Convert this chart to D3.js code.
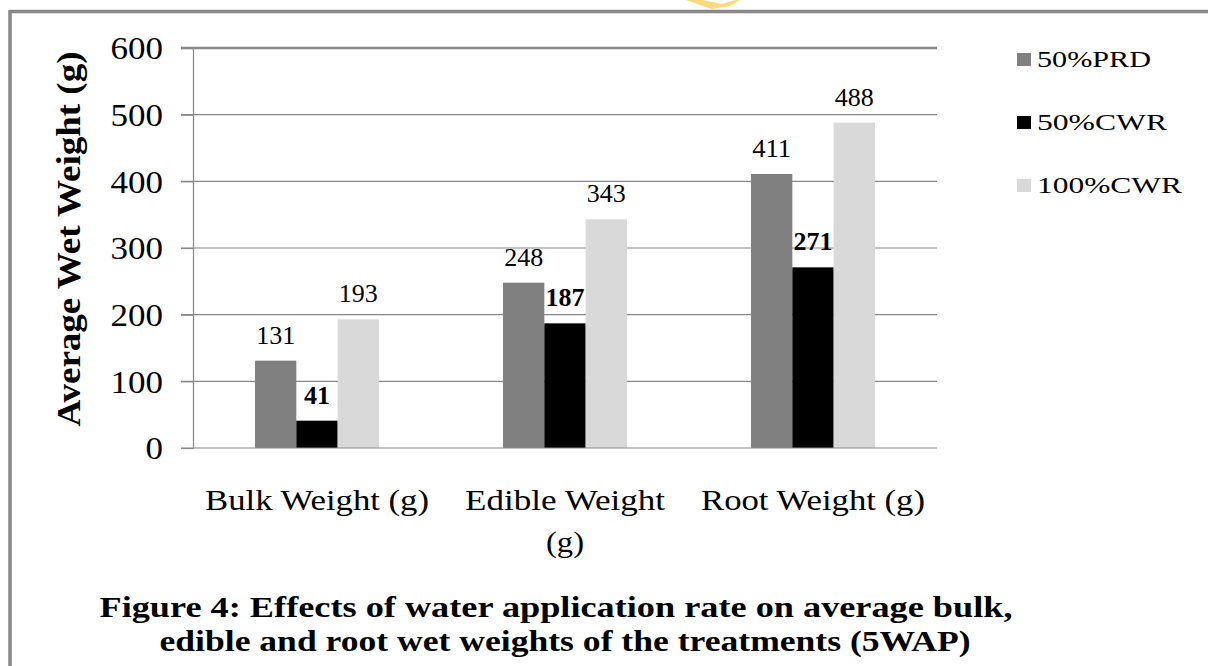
<!DOCTYPE html>
<html>
<head>
<meta charset="utf-8">
<script src="https://cdn.jsdelivr.net/npm/d3@7/dist/d3.min.js"></script>
<style>
  html, body { margin: 0; padding: 0; background: #fff; }
  svg { display: block; }
  text { font-family: "Liberation Serif", "Times New Roman", serif; }
</style>
</head>
<body>
<svg id="chart" width="1208" height="666"></svg>
<script>
// ---- data ----
const categories = ["Bulk Weight (g)", "Edible Weight (g)", "Root Weight (g)"];
const categoryLines = [["Bulk Weight (g)"], ["Edible Weight", "(g)"], ["Root Weight (g)"]];
const seriesNames = ["50%PRD", "50%CWR", "100%CWR"];
const prd50 = [131, 248, 411];
const cwr50 = [41, 187, 271];
const cwr100 = [193, 343, 488];
const yTicks = [0, 100, 200, 300, 400, 500, 600];
const yTitle = "Average Wet Weight (g)";
const captionLines = [
  "Figure 4: Effects of water application rate on average bulk,",
  "edible and root wet weights of the treatments (5WAP)"
];
const seriesValues = [prd50, cwr50, cwr100];
const colors = ["#808080", "#000000", "#d9d9d9"];
const labelWeights = ["normal", "bold", "normal"];

// ---- layout ----
const svg = d3.select("#chart");
const plot = { left: 193, right: 937, top: 48, bottom: 448 };
const serif = '"Liberation Serif", "Times New Roman", serif';

// outer frame
svg.append("rect").attr("x", 10).attr("y", 11.5).attr("width", 1400).attr("height", 900)
  .attr("fill", "none").attr("stroke", "#888").attr("stroke-width", 3.5);

// small watermark fragment at the top
svg.append("path")
  .attr("d", "M686,0 L702,0 L722,4 L736,0 L740,0 L730,6 L712,9 L700,5 Z")
  .attr("fill", "#fcd66a").attr("opacity", 0.9);

const x0 = d3.scaleBand().domain(categories).range([plot.left, plot.right])
  .paddingInner(0.5).paddingOuter(0.25);
const x1 = d3.scaleBand().domain(seriesNames).range([0, x0.bandwidth()]);
const y = d3.scaleLinear().domain([0, 600]).range([plot.bottom, plot.top]);

// gridlines
svg.append("g").selectAll("line").data(yTicks.filter(d => d > 0)).join("line")
  .attr("x1", plot.left - 12).attr("x2", plot.right)
  .attr("y1", d => y(d)).attr("y2", d => y(d))
  .attr("stroke", "#888")
  .attr("stroke-width", d => d === 600 ? 2.5 : 1.2);

// y axis
const yAxis = svg.append("g").attr("transform", `translate(${plot.left},0)`)
  .call(d3.axisLeft(y).tickValues(yTicks).tickSize(12).tickPadding(18).tickFormat(d3.format("d")));
yAxis.attr("font-family", null);
yAxis.select(".domain").attr("stroke", "#888").attr("stroke-width", 1.2);
yAxis.selectAll(".tick line").attr("stroke", "#888").attr("stroke-width", 1.2);
yAxis.selectAll(".tick text")
  .style("font-family", serif).attr("font-size", 32).attr("fill", "#000")
  .attr("dy", "0.34em")
  .attr("textLength", d => String(d).length * 17.5).attr("lengthAdjust", "spacingAndGlyphs");

// bars
const groups = svg.append("g").selectAll("g").data(categories).join("g")
  .attr("transform", c => `translate(${x0(c)},0)`);
groups.selectAll("rect").data((c, i) => seriesNames.map((s, j) => ({ s, j, v: seriesValues[j][i] })))
  .join("rect")
  .attr("x", d => x1(d.s)).attr("width", x1.bandwidth())
  .attr("y", d => y(d.v)).attr("height", d => y(0) - y(d.v))
  .attr("fill", d => colors[d.j]);

// data labels
groups.selectAll("text").data((c, i) => seriesNames.map((s, j) => ({ s, j, v: seriesValues[j][i] })))
  .join("text")
  .style("font-family", serif)
  .attr("x", d => x1(d.s) + x1.bandwidth() / 2)
  .attr("y", d => y(d.v) - 17)
  .attr("text-anchor", "middle")
  .attr("font-size", 25)
  .attr("font-weight", d => labelWeights[d.j])
  .attr("fill", "#000")
  .attr("textLength", d => String(d.v).length * 13).attr("lengthAdjust", "spacingAndGlyphs")
  .text(d => d.v);

// x axis baseline
svg.append("line").attr("x1", plot.left - 12).attr("x2", plot.right)
  .attr("y1", y(0)).attr("y2", y(0)).attr("stroke", "#888").attr("stroke-width", 1.2);

// category labels
const catWidth = { "Bulk Weight (g)": 224, "Edible Weight": 200, "Root Weight (g)": 224, "(g)": 38 };
categories.forEach((c, i) => {
  categoryLines[i].forEach((line, k) => {
    svg.append("text")
      .style("font-family", serif)
      .attr("x", x0(c) + x0.bandwidth() / 2)
      .attr("y", 510 + k * 42)
      .attr("text-anchor", "middle")
      .attr("font-size", 30)
      .attr("fill", "#000")
      .attr("textLength", catWidth[line]).attr("lengthAdjust", "spacingAndGlyphs")
      .text(line);
  });
});

// y title
svg.append("text")
  .style("font-family", serif)
  .attr("transform", "translate(80,239) rotate(-90)")
  .attr("text-anchor", "middle")
  .attr("font-size", 33).attr("font-weight", "bold").attr("fill", "#000")
  .attr("textLength", 375).attr("lengthAdjust", "spacingAndGlyphs")
  .text(yTitle);

// legend
const legend = svg.append("g").selectAll("g").data(seriesNames).join("g")
  .attr("transform", (d, i) => `translate(1017,${53 + i * 63})`);
legend.append("rect").attr("width", 14).attr("height", 13).attr("fill", (d, i) => colors[i]);
const legendWidths = [114, 130, 145];
legend.append("text").attr("x", 20).attr("y", 14)
  .style("font-family", serif)
  .attr("font-size", 23).attr("fill", "#000")
  .attr("textLength", (d, i) => legendWidths[i]).attr("lengthAdjust", "spacingAndGlyphs")
  .text(d => d);

// caption
const capWidths = [913, 811];
const capCenters = [556, 565];
captionLines.forEach((line, k) => {
  svg.append("text")
    .style("font-family", serif)
    .attr("x", capCenters[k]).attr("y", 617 + k * 34)
    .attr("text-anchor", "middle")
    .attr("font-size", 30).attr("font-weight", "bold").attr("fill", "#000")
    .attr("textLength", capWidths[k]).attr("lengthAdjust", "spacingAndGlyphs")
    .text(line);
});
</script>
</body>
</html>
